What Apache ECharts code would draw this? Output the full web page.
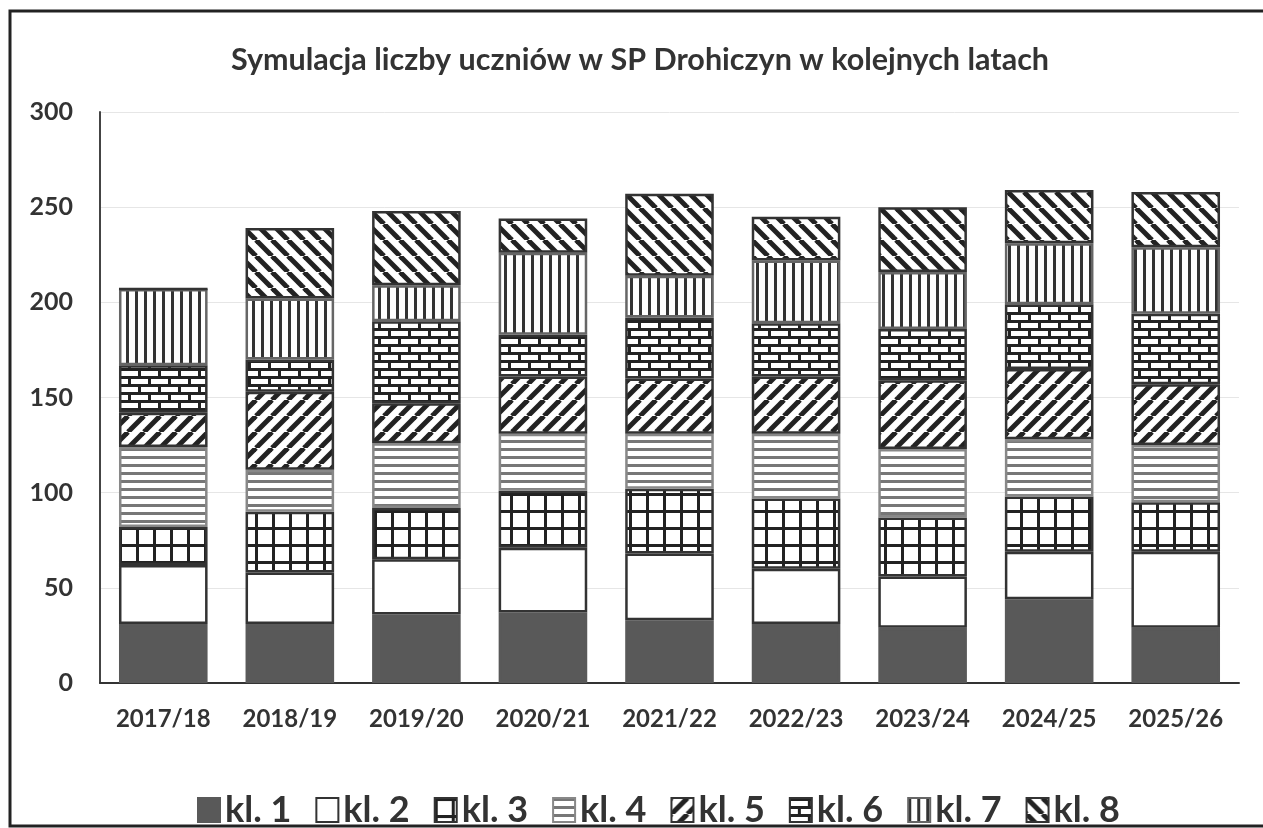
<!DOCTYPE html>
<html>
<head>
<meta charset="utf-8">
<script src="https://cdn.jsdelivr.net/npm/echarts@6/dist/echarts.min.js"></script>
<style>
  html, body { margin: 0; padding: 0; background: #fff; }
  #chart { width: 1263px; height: 828px; }
</style>
</head>
<body>
<div id="chart"></div>
<script>
// lata szkolne
const years = ['2017/18', '2018/19', '2019/20', '2020/21', '2021/22', '2022/23', '2023/24', '2024/25', '2025/26']
const classNames = ['kl. 1', 'kl. 2', 'kl. 3', 'kl. 4', 'kl. 5', 'kl. 6', 'kl. 7', 'kl. 8']
// liczba uczniów w poszczególnych klasach
const kl1 = [31, 31, 36, 37, 33, 31, 29, 44, 29]
const kl2 = [31, 27, 29, 34, 35, 29, 27, 25, 40]
const kl3 = [20, 32, 27, 30, 34, 37, 31, 29, 26]
const kl4 = [42, 22, 34, 30, 29, 34, 36, 30, 30]
const kl5 = [18, 41, 21, 30, 29, 30, 36, 37, 32]
const kl6 = [25, 17, 43, 22, 32, 28, 27, 34, 37]
const kl7 = [40, 32, 19, 43, 22, 33, 30, 32, 35]
const kl8 = [0, 37, 39, 18, 43, 23, 34, 28, 29]
const yTicks = { min: 0, max: 300, step: 50 }

const font = 'Lato, "Open Sans", sans-serif'

// wzory wypełnienia (kafelki canvas)
function tile(w, h, draw) {
  const c = document.createElement('canvas')
  c.width = w
  c.height = h
  const ctx = c.getContext('2d')
  ctx.fillStyle = '#fff'
  ctx.fillRect(0, 0, w, h)
  draw(ctx, w, h)
  return { image: c, repeat: 'repeat' }
}

const patGrid = tile(17, 17, (ctx) => {
  ctx.fillStyle = '#222'
  ctx.fillRect(0, 0, 17, 3)
  ctx.fillRect(0, 0, 3, 17)
})
const patHoriz = tile(8, 8, (ctx) => {
  ctx.fillStyle = '#777'
  ctx.fillRect(0, 0, 8, 3)
})
function diag(up) {
  return tile(16, 16, (ctx, w, h) => {
    ctx.strokeStyle = '#222'
    ctx.lineWidth = 5
    for (let k = -1; k <= 1; k++) {
      ctx.beginPath()
      if (up) {
        ctx.moveTo(k * w, h)
        ctx.lineTo(k * w + w, 0)
      } else {
        ctx.moveTo(k * w, 0)
        ctx.lineTo(k * w + w, h)
      }
      ctx.stroke()
    }
  })
}
const patUp = diag(true)
const patDown = diag(false)
const patBrick = tile(20, 16, (ctx) => {
  ctx.fillStyle = '#222'
  ctx.fillRect(0, 0, 20, 16)
  ctx.fillStyle = '#fff'
  ctx.fillRect(1, 3, 17, 5)
  ctx.fillRect(11, 11, 17, 5)
  ctx.fillRect(-9, 11, 17, 5)
})
const patVert = tile(9, 9, (ctx) => {
  ctx.fillStyle = '#333'
  ctx.fillRect(0, 0, 3, 9)
})

const seriesData = [kl1, kl2, kl3, kl4, kl5, kl6, kl7, kl8]
const fills = ['#595959', '#fff', patGrid, patHoriz, patUp, patBrick, patVert, patDown]
const borders = ['#595959', '#333', '#333', '#888', '#333', '#333', '#666', '#333']

const series = seriesData.map((data, i) => ({
  name: classNames[i],
  type: 'bar',
  stack: 'total',
  barCategoryGap: '30%',
  data: data,
  itemStyle: {
    color: fills[i],
    borderColor: borders[i],
    borderWidth: 2.5
  }
}))

const myChart = echarts.init(document.getElementById('chart'))
const option = {
  animation: false,
  backgroundColor: '#fff',
  title: {
    text: 'Symulacja liczby uczniów w SP Drohiczyn w kolejnych latach',
    left: 226,
    top: 40,
    textStyle: { fontFamily: font, fontSize: 30.5, fontWeight: 'bold', color: '#333' }
  },
  graphic: [{
    type: 'rect',
    shape: { x: 10, y: 11, width: 1270, height: 815 },
    style: { fill: 'none', stroke: '#222', lineWidth: 3 },
    silent: true
  }],
  legend: {
    top: 787,
    left: 192,
    itemWidth: 22,
    itemHeight: 24,
    itemGap: 24,
    icon: 'rect',
    textStyle: { fontFamily: font, fontSize: 36, fontWeight: 'bold', color: '#333' },
    data: classNames
  },
  grid: { left: 100, right: 24, top: 112, bottom: 145 },
  xAxis: {
    type: 'category',
    data: years,
    axisLine: { lineStyle: { color: '#333', width: 2 } },
    axisTick: { show: false },
    axisLabel: { interval: 0, margin: 24, fontFamily: font, fontSize: 24, fontWeight: 'bold', color: '#333' }
  },
  yAxis: {
    type: 'value',
    min: yTicks.min,
    max: yTicks.max,
    interval: yTicks.step,
    axisLine: { show: true, lineStyle: { color: '#444', width: 2 } },
    axisTick: { show: false },
    axisLabel: { margin: 27, fontFamily: font, fontSize: 25, fontWeight: 'bold', color: '#333' },
    splitLine: { lineStyle: { color: '#e6e6e6', width: 1 } }
  },
  series: series
}
option && myChart.setOption(option)
</script>
</body>
</html>
